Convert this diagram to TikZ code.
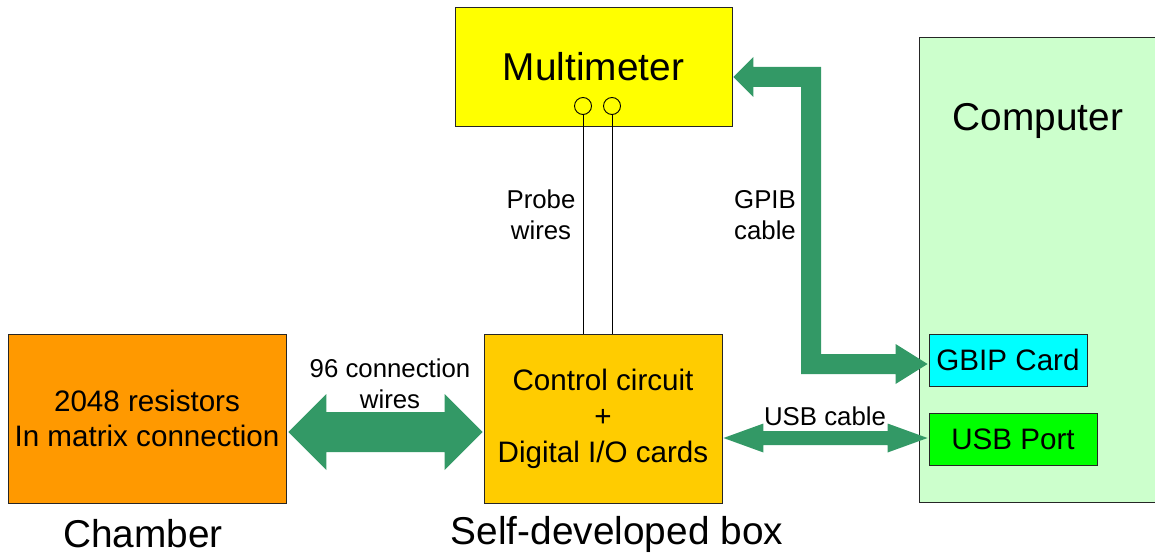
\documentclass[tikz,border=0pt]{standalone}
\usepackage{fontspec}
\setmainfont{Liberation Sans}
\usetikzlibrary{calc}
\definecolor{arrowgreen}{RGB}{51,153,102}
\definecolor{mmyellow}{RGB}{255,255,0}
\definecolor{chamberorange}{RGB}{255,153,0}
\definecolor{ctrlyellow}{RGB}{255,204,0}
\definecolor{compgreen}{RGB}{204,255,204}
\definecolor{gbipcyan}{RGB}{0,255,255}
\definecolor{usbgreen}{RGB}{0,255,0}
\tikzset{
  box/.style={draw=black!85, line width=0.9pt, inner sep=0pt, align=center},
  bigtext/.style={font=\fontsize{38.8}{44}\selectfont},
  midtext/.style={font=\fontsize{29.6}{35}\selectfont},
  smalltext/.style={font=\fontsize{25.8}{31}\selectfont, align=center, inner sep=0pt},
  bigarrow/.style={fill=arrowgreen, draw=none},
  wire/.style={draw=black, line width=0.9pt},
  jack/.style={circle, draw=black, line width=0.9pt, minimum size=17pt, inner sep=0pt}
}
\begin{document}
\begin{tikzpicture}[x=1pt,y=-1pt]
\useasboundingbox (0,0) rectangle (1155,559);
% boxes
\node[box, fill=compgreen, minimum width=250pt, minimum height=465pt, anchor=north west] (computer) at (919,37) {};
\node[bigtext] (computerlabel) at (1038,121) {Computer};
\node[box, fill=gbipcyan, minimum width=158pt, minimum height=52pt, midtext] (gbip) at (1008,360) {GBIP Card};
\node[box, fill=usbgreen, minimum width=168pt, minimum height=52pt, midtext] (usb) at (1013,439) {USB Port};
\node[box, fill=mmyellow, minimum width=277pt, minimum height=119pt, bigtext] (mm) at (593.5,66.5) {Multimeter};
\node[jack] (j1) at (583,106) {};
\node[jack] (j2) at (612,106) {};
\node[box, fill=chamberorange, minimum width=278pt, minimum height=169pt, midtext] (chamber) at (147,418.5) {2048 resistors\\In matrix connection};
\node[box, fill=ctrlyellow, minimum width=238pt, minimum height=169pt, font=\fontsize{29.6}{36}\selectfont] (ctrl) at (603,418.5) {Control circuit\\+\\Digital I/O cards};
% captions
\node[bigtext] (chambercap) at (143,534) {Chamber};
\node[bigtext] (ctrlcap) at (617,534) {Self-developed box};
% probe wires
\draw[wire] (j1.south) -- (j1.south |- ctrl.north);
\draw[wire] (j2.south) -- (j2.south |- ctrl.north);
\node[smalltext] (probelbl) at (541,215) {Probe\\wires};
% big double arrow chamber <-> control
\coordinate (a1) at ($(chamber.east |- 0,432)+(2,0)$);
\coordinate (a2) at ($(ctrl.west |- 0,432)+(-1,0)$);
\fill[bigarrow] (a1) -- ++(38,-38) -- ++(0,18) -- ($(a2)+(-38,-20)$) -- ++(0,-18) -- (a2)
  -- ++(-38,38) -- ++(0,-18) -- ($(a1)+(38,20)$) -- ++(0,18) -- cycle;
\node[smalltext] (wireslbl) at (390,383.5) {96 connection\\wires};
% USB double arrow control <-> usb
\coordinate (u1) at ($(ctrl.east |- 0,438)+(1,0)$);
\coordinate (u2) at ($(usb.west |- 0,438)+(-1,0)$);
\fill[bigarrow] (u1) -- ++(40,-14.5) -- ++(0,7.5) -- ($(u2)+(-40,-7)$) -- ++(0,-7.5) -- (u2)
  -- ++(-40,14.5) -- ++(0,-7.5) -- ($(u1)+(40,7)$) -- ++(0,7.5) -- cycle;
\node[smalltext] (usblbl) at (825,416) {USB cable};
% GPIB L-shaped arrow multimeter <-> gbip
\coordinate (g1) at ($(mm.east |- 0,77)+(1,0)$);
\coordinate (g2) at ($(gbip.west |- 0,364)+(-1,0)$);
\fill[bigarrow] (g1) -- ++(20,-20) -- ++(0,10) -- (821,67) -- (821,354) -- ($(g2)+(-32,-10)$)
  -- ++(0,-10) -- (g2) -- ++(-32,20) -- ++(0,-10) -- (801,374) -- (801,87)
  -- ($(g1)+(20,10)$) -- ++(0,10) -- cycle;
\node[smalltext] (gpiblbl) at (765,215) {GPIB\\cable};
\end{tikzpicture}
\end{document}
